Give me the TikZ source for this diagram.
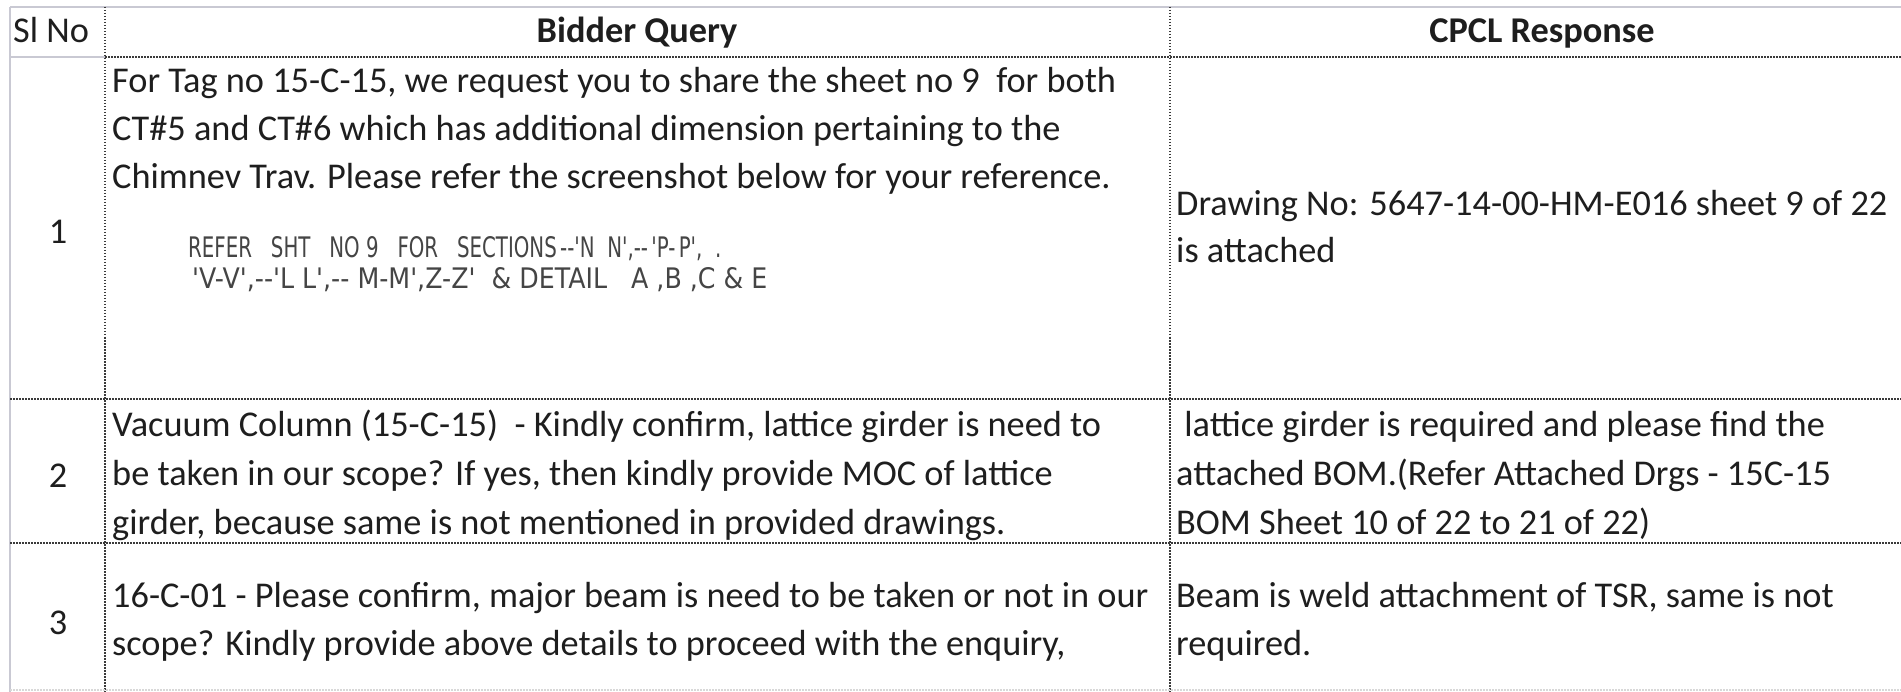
\documentclass[tikz,border=0pt]{standalone}
\usepackage{fontspec}
\usepackage{graphicx}
\setmainfont{Carlito}
\newfontfamily\shotfont{DejaVu Sans}
\definecolor{gridgray}{HTML}{C9C9D3}
\definecolor{dotgray}{HTML}{3A3A3A}
\definecolor{faintgray}{HTML}{D8D8D8}
\definecolor{ink}{HTML}{1E1E1E}
\definecolor{shotink}{HTML}{454545}
\begin{document}
\begin{tikzpicture}[x=1pt,y=-1pt,
  gridline/.style={draw=gridgray, line width=1.6pt},
  dotline/.style={draw=dotgray, line width=1.7pt, dash pattern=on 1.5pt off 1.5pt},
  faintline/.style={draw=faintgray, line width=1.2pt, dash pattern=on 1.5pt off 1.5pt},
  cell/.style={anchor=base west, inner sep=0pt, text=ink, font=\fontsize{36.3}{44}\selectfont},
  head/.style={anchor=base, inner sep=0pt, text=ink, font=\fontsize{36.3}{44}\selectfont\bfseries},
  numcell/.style={anchor=base, inner sep=0pt, text=ink, font=\fontsize{36.3}{44}\selectfont},
  shot/.style={anchor=base west, inner sep=0pt, text=shotink}]
\useasboundingbox (0,0) rectangle (1901,692);
\fill[white] (0,0) rectangle (1901,692);
% grid coordinates
\coordinate (tl) at (10,7);   \coordinate (tr) at (1901,7);
\coordinate (bl) at (10,692);
\coordinate (h0) at (10,57);  \coordinate (h1) at (105,57); \coordinate (h2) at (1901,57);
\coordinate (c1t) at (105,7); \coordinate (c1b) at (105,692);
\coordinate (c2t) at (1170,7); \coordinate (c2b) at (1170,692);
\coordinate (r1l) at (10,399); \coordinate (r1r) at (1901,399);
\coordinate (r2l) at (10,543); \coordinate (r2r) at (1901,543);
\coordinate (r3l) at (10,690); \coordinate (r3r) at (1901,690);
% lines
\draw[gridline] (tl) -- (tr);
\draw[gridline] (tl) -- (bl);
\draw[gridline] (h0) -- (h1);
\draw[dotline] (h1) -- (h2);
\draw[dotline] (c1t) -- (c1b);
\draw[dotline] (c2t) -- (c2b);
\draw[dotline] (r1l) -- (r1r);
\draw[dotline] (r2l) -- (r2r);
\draw[faintline] (r3l) -- (r3r);
% header
\node[cell] (hsl) at (13,43) {Sl No};
\node[head] (hbq) at (637,43) {Bidder Query};
\node[head] (hcr) at (1542,43) {CPCL Response};
% row 1
\node[numcell] (n1) at (58,244) {1};
\node[cell] (q1a) at (112,93) {For Tag no 15-C-15, we request you to share the sheet no 9~ for both};
\node[cell] (q1b) at (112,141) {CT\#5 and CT\#6 which has additional dimension pertaining to the};
\node[cell] (q1c) at (112,189) {Chimnev Trav. Please refer the screenshot below for your reference.};
\node[shot] (s1a) at (188,258) {\resizebox{533pt}{21pt}{\shotfont REFER\ \ \ SHT\ \ \ NO 9\ \ \ FOR\ \ \ SECTIONS\,--\textquotesingle N\ \ N\textquotesingle,--\,\textquotesingle P-\,P\textquotesingle,\ \ .}};
\node[shot] (s1b) at (192,289) {\resizebox{575pt}{21pt}{\shotfont \textquotesingle V-V\textquotesingle,--\textquotesingle L\ L\textquotesingle,-- M-M\textquotesingle,Z-Z\textquotesingle\ \ \& DETAIL\ \ \ A ,B ,C \& E}};
\node[cell] (a1a) at (1176,216) {Drawing No: 5647-14-00-HM-E016 sheet 9 of 22};
\node[cell] (a1b) at (1176,263) {is attached};
% row 2
\node[numcell] (n2) at (58,487) {2};
\node[cell] (q2a) at (112,436) {Vacuum Column (15-C-15)~ - Kindly confirm, lattice girder is need to};
\node[cell] (q2b) at (112,485) {be taken in our scope? If yes, then kindly provide MOC of lattice};
\node[cell] (q2c) at (112,534) {girder, because same is not mentioned in provided drawings.};
\node[cell] (a2a) at (1176,436) {~lattice girder is required and please find the};
\node[cell] (a2b) at (1176,485) {attached BOM.(Refer Attached Drgs - 15C-15};
\node[cell] (a2c) at (1176,534) {BOM Sheet 10 of 22 to 21 of 22)};
% row 3
\node[numcell] (n3) at (58,634) {3};
\node[cell] (q3a) at (112,607) {16-C-01 - Please confirm, major beam is need to be taken or not in our};
\node[cell] (q3b) at (112,655) {scope? Kindly provide above details to proceed with the enquiry,};
\node[cell] (a3a) at (1176,607) {Beam is weld attachment of TSR, same is not};
\node[cell] (a3b) at (1176,655) {required.};
\end{tikzpicture}
\end{document}
